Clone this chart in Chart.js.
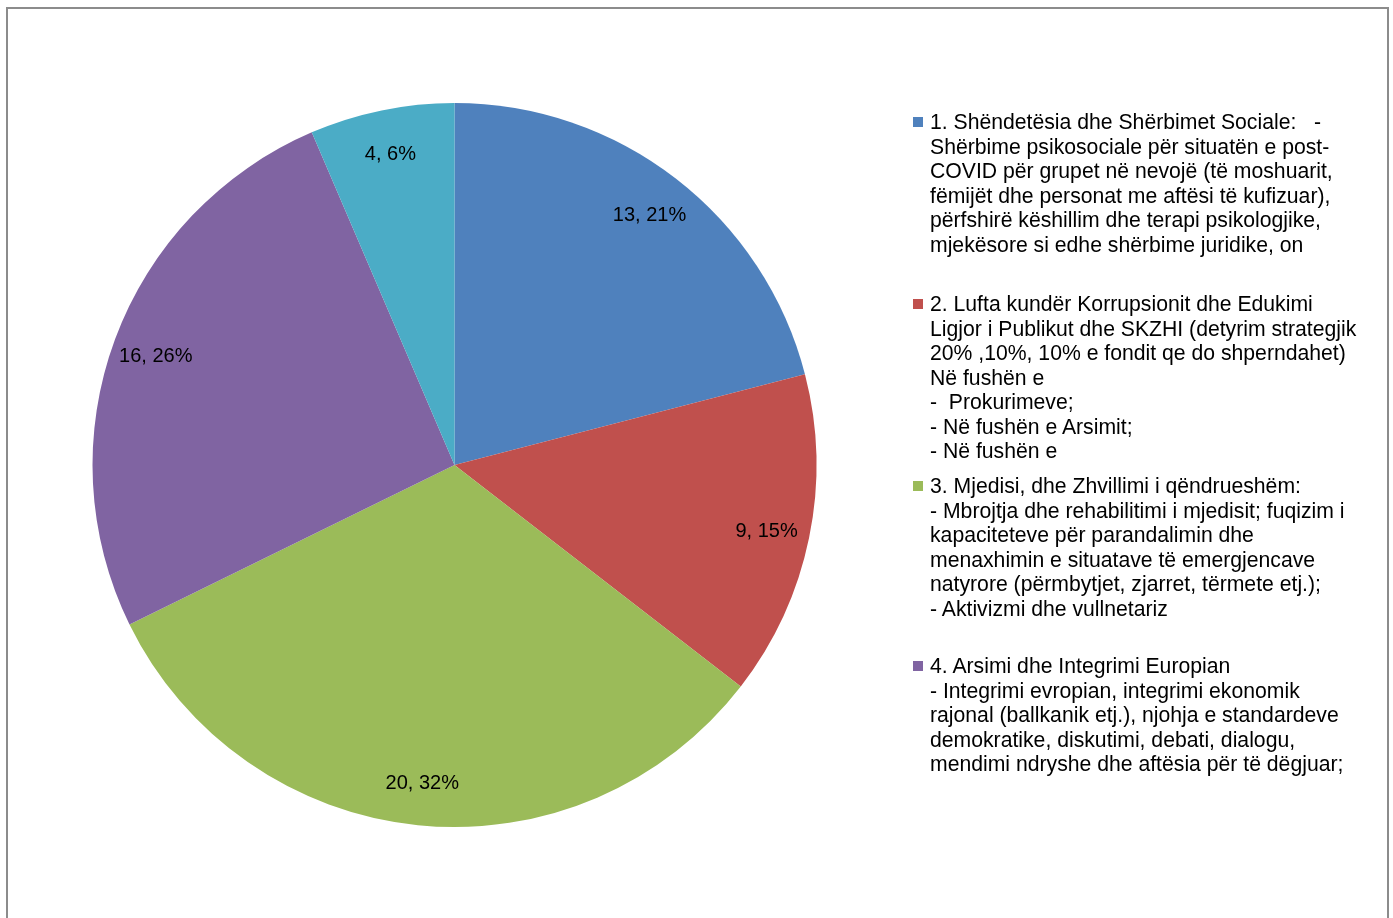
<html lang="sq">
<head>
  <meta charset="UTF-8">
  <title>Pie</title>
  <script src="https://cdn.jsdelivr.net/npm/chart.js"></script>
  <style>
    body, html {
      margin: 0;
      padding: 0;
      background: #fff;
      font-family: "Liberation Sans", Arial, sans-serif;
      overflow: hidden;
    }
    .frame {
      position: absolute;
      left: 6px;
      top: 7px;
      width: 1379px;
      height: 960px;
      border: 2px solid #8c8c8c;
      border-bottom: none;
    }
    #wrap {
      position: absolute;
      left: 0;
      top: 0;
      width: 1393px;
      height: 918px;
    }
    #legend {
      position: absolute;
      left: 913px;
      top: 0;
      width: 470px;
    }
    .item {
      position: absolute;
      left: 0;
      white-space: pre;
      font-size: 21.2px;
      line-height: 24.5px;
      color: #000;
    }
    .box {
      position: absolute;
      left: 0;
      top: 7px;
      width: 10px;
      height: 10px;
    }
    .txt {
      position: absolute;
      left: 17px;
      top: 0;
    }
  </style>
</head>
<body>
  <div class="frame"></div>
  <div id="wrap"><canvas id="myChart"></canvas></div>
  <div id="legend"></div>

  <script>
    const categories = [
      '1. Shëndetësia dhe Shërbimet Sociale:   -\nShërbime psikosociale për situatën e post-\nCOVID për grupet në nevojë (të moshuarit,\nfëmijët dhe personat me aftësi të kufizuar),\npërfshirë këshillim dhe terapi psikologjike,\nmjekësore si edhe shërbime juridike, on',
      '2. Lufta kundër Korrupsionit dhe Edukimi\nLigjor i Publikut dhe SKZHI (detyrim strategjik\n20% ,10%, 10% e fondit qe do shperndahet)\nNë fushën e\n-  Prokurimeve;\n- Në fushën e Arsimit;\n- Në fushën e',
      '3. Mjedisi, dhe Zhvillimi i qëndrueshëm:\n- Mbrojtja dhe rehabilitimi i mjedisit; fuqizim i\nkapaciteteve për parandalimin dhe\nmenaxhimin e situatave të emergjencave\nnatyrore (përmbytjet, zjarret, tërmete etj.);\n- Aktivizmi dhe vullnetariz',
      '4. Arsimi dhe Integrimi Europian\n- Integrimi evropian, integrimi ekonomik\nrajonal (ballkanik etj.), njohja e standardeve\ndemokratike, diskutimi, debati, dialogu,\nmendimi ndryshe dhe aftësia për të dëgjuar;',
      '5.'
    ];
    const values = [13, 9, 20, 16, 4];
    const colors = ['#4F81BD', '#C0504D', '#9BBB59', '#8064A2', '#4BACC6'];

    // legend entry tops (only first four fit in the box)
    const legendTops = [110, 292, 474, 654];

    const total = values.reduce((a, b) => a + b, 0);

    // draws "value, pct%" inside each slice
    const sliceLabels = {
      id: 'sliceLabels',
      afterDatasetsDraw(chart) {
        const ctx = chart.ctx;
        const meta = chart.getDatasetMeta(0);
        ctx.save();
        ctx.font = '20px "Liberation Sans", Arial, sans-serif';
        ctx.fillStyle = '#000';
        ctx.textAlign = 'center';
        ctx.textBaseline = 'middle';
        meta.data.forEach((arc, i) => {
          const mid = (arc.startAngle + arc.endAngle) / 2;
          const r = arc.outerRadius * 0.88;
          const x = arc.x + Math.cos(mid) * r;
          const y = arc.y + Math.sin(mid) * r + 2;
          const pct = Math.round(values[i] / total * 100);
          ctx.fillText(values[i] + ', ' + pct + '%', x, y);
        });
        ctx.restore();
      }
    };

    const canvas = document.getElementById('myChart');
    canvas.width = 1393;
    canvas.height = 918;
    const myChart = new Chart(canvas.getContext('2d'), {
      type: 'pie',
      data: {
        labels: categories,
        datasets: [{
          data: values,
          backgroundColor: colors,
          borderWidth: 0
        }]
      },
      options: {
        responsive: false,
        animation: false,
        layout: {
          padding: { left: 92, top: 103, right: 576, bottom: 91 }
        },
        plugins: {
          legend: { display: false },
          tooltip: { enabled: false }
        }
      },
      plugins: [sliceLabels]
    });

    // html legend built from chart data
    const legend = document.getElementById('legend');
    legendTops.forEach((top, i) => {
      const item = document.createElement('div');
      item.className = 'item';
      item.style.top = top + 'px';
      const box = document.createElement('div');
      box.className = 'box';
      box.style.background = myChart.data.datasets[0].backgroundColor[i];
      const txt = document.createElement('div');
      txt.className = 'txt';
      txt.textContent = myChart.data.labels[i];
      item.appendChild(box);
      item.appendChild(txt);
      legend.appendChild(item);
    });
  </script>
</body>
</html>
